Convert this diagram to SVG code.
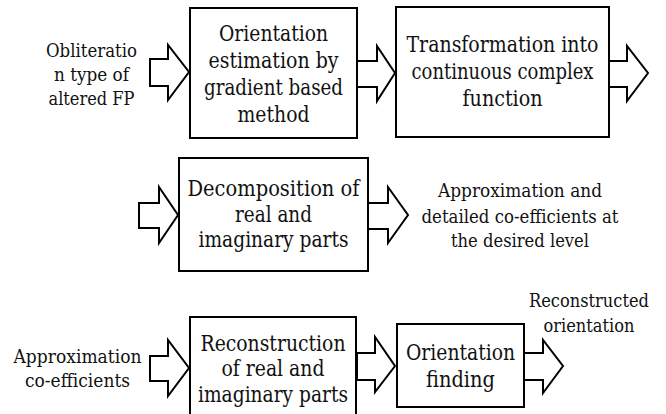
<svg xmlns="http://www.w3.org/2000/svg" width="666" height="414" viewBox="0 0 666 414">
<style>
.box{fill:#fff;stroke:#000;stroke-width:2}
.arr{fill:#fff;stroke:#000;stroke-width:2;stroke-linejoin:miter}
text{font-family:'DejaVu Serif',serif;fill:#111;text-anchor:middle}
.t{font-size:22px}
.l{font-size:19px}
</style>
<rect width="666" height="414" fill="#fff"/>
<g id="connectors">
<polygon class="arr" points="150,59 168,59 168,45 189,72 168,100 168,86 150,86"/>
<polygon class="arr" points="357,61 377,61 377,46 395,73 377,101 377,87 357,87"/>
<polygon class="arr" points="609,61 627,61 627,46 648,73 627,101 627,87 609,87"/>
<polygon class="arr" points="139,203 159,203 159,187 178,215 159,243 159,228 139,228"/>
<polygon class="arr" points="368,203 388,203 388,187 408,215 388,243 388,229 368,229"/>
<polygon class="arr" points="150,356 168,356 168,340 189,368 168,396 168,381 150,381"/>
<polygon class="arr" points="357,353 375,353 375,337 395,366 375,392 375,380 357,380"/>
<polygon class="arr" points="524,353 543,353 543,340 563,366 543,393 543,380 524,380"/>
</g>
<g id="label-obliteration">
<text class="l" x="91.5" y="57" textLength="91" lengthAdjust="spacingAndGlyphs">Obliteratio</text>
<text class="l" x="91.5" y="81" textLength="75" lengthAdjust="spacingAndGlyphs">n type of</text>
<text class="l" x="91.5" y="105" textLength="86" lengthAdjust="spacingAndGlyphs">altered FP</text>
</g>
<g id="node-orientation-estimation">
<rect class="box" x="190" y="8" width="167" height="130"/>
<text class="t" x="273.5" y="41" textLength="109" lengthAdjust="spacingAndGlyphs">Orientation</text>
<text class="t" x="273.5" y="68" textLength="130" lengthAdjust="spacingAndGlyphs">estimation by</text>
<text class="t" x="273.5" y="95" textLength="139" lengthAdjust="spacingAndGlyphs">gradient based</text>
<text class="t" x="273.5" y="122" textLength="72" lengthAdjust="spacingAndGlyphs">method</text>
</g>
<g id="node-transformation">
<rect class="box" x="396" y="7" width="213" height="130"/>
<text class="t" x="502.5" y="52" textLength="192" lengthAdjust="spacingAndGlyphs">Transformation into</text>
<text class="t" x="502.5" y="79" textLength="182" lengthAdjust="spacingAndGlyphs">continuous complex</text>
<text class="t" x="502.5" y="106" textLength="80" lengthAdjust="spacingAndGlyphs">function</text>
</g>
<g id="node-decomposition">
<rect class="box" x="179" y="158" width="189" height="113"/>
<text class="t" x="273.5" y="196" textLength="172" lengthAdjust="spacingAndGlyphs">Decomposition of</text>
<text class="t" x="273.5" y="222" textLength="77" lengthAdjust="spacingAndGlyphs">real and</text>
<text class="t" x="273.5" y="247" textLength="150" lengthAdjust="spacingAndGlyphs">imaginary parts</text>
</g>
<g id="label-approx-detailed">
<text class="l" x="520" y="197" textLength="164" lengthAdjust="spacingAndGlyphs">Approximation and</text>
<text class="l" x="520" y="223" textLength="197" lengthAdjust="spacingAndGlyphs">detailed co-efficients at</text>
<text class="l" x="520" y="247" textLength="138" lengthAdjust="spacingAndGlyphs">the desired level</text>
</g>
<g id="label-approx-coeff">
<text class="l" x="77.5" y="363" textLength="128" lengthAdjust="spacingAndGlyphs">Approximation</text>
<text class="l" x="77.5" y="387" textLength="105" lengthAdjust="spacingAndGlyphs">co-efficients</text>
</g>
<g id="node-reconstruction">
<rect class="box" x="190" y="317" width="166" height="100"/>
<text class="t" x="273" y="351" textLength="145" lengthAdjust="spacingAndGlyphs">Reconstruction</text>
<text class="t" x="273" y="376" textLength="103" lengthAdjust="spacingAndGlyphs">of real and</text>
<text class="t" x="273" y="402" textLength="150" lengthAdjust="spacingAndGlyphs">imaginary parts</text>
</g>
<g id="node-orientation-finding">
<rect class="box" x="397" y="324" width="127" height="83"/>
<text class="t" x="460.5" y="360" textLength="109" lengthAdjust="spacingAndGlyphs">Orientation</text>
<text class="t" x="460.5" y="387" textLength="69" lengthAdjust="spacingAndGlyphs">finding</text>
</g>
<g id="label-reconstructed">
<text class="l" x="589" y="307" textLength="120" lengthAdjust="spacingAndGlyphs">Reconstructed</text>
<text class="l" x="589" y="332" textLength="91" lengthAdjust="spacingAndGlyphs">orientation</text>
</g>
</svg>
